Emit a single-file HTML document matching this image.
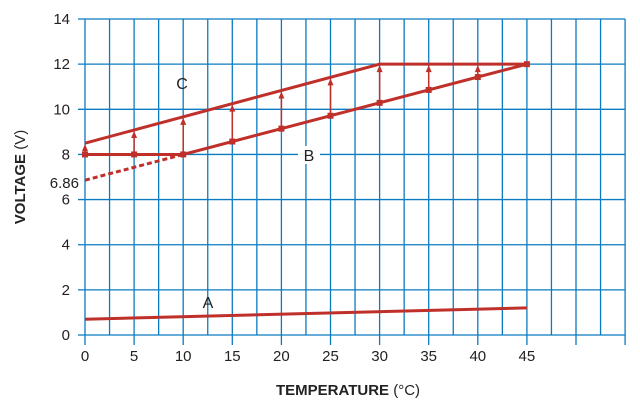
<!DOCTYPE html>
<html><head><meta charset="utf-8"><style>
body{margin:0;background:#fff}
svg{font-family:"Liberation Sans",sans-serif}
</style></head><body>
<svg id="chart" width="640" height="408" viewBox="0 0 640 408" xmlns="http://www.w3.org/2000/svg">
<g id="grid"></g>
<g id="series"></g>
<g id="labels"></g>
<rect x="298" y="146" width="22" height="18" fill="#fff"/>
<text x="182" y="89" font-size="16" text-anchor="middle" fill="#222">C</text>
<text x="309" y="161" font-size="16" text-anchor="middle" fill="#222">B</text>
<text x="208" y="308" font-size="16" text-anchor="middle" fill="#222">A</text>
<text x="79" y="188" font-size="15" text-anchor="end" fill="#222">6.86</text>
<text x="25" y="177" font-size="15" font-weight="bold" text-anchor="middle" fill="#222" transform="rotate(-90 25 177)">VOLTAGE <tspan font-weight="normal">(V)</tspan></text>
<text x="348" y="395" font-size="15" font-weight="bold" text-anchor="middle" fill="#222">TEMPERATURE <tspan font-weight="normal">(°C)</tspan></text>
</svg>
<script>
const xTicks=[0,5,10,15,20,25,30,35,40,45];
const yTicks=[0,2,4,6,8,10,12,14];
const lineA=[[0,0.7],[45,1.2]];
const lineB=[[0,8],[10,8],[45,12]];
const lineBDashed=[[0,6.86],[10,8]];
const lineC=[[0,8.5],[30,12],[45,12]];
const markerTemps=[0,5,10,15,20,25,30,35,40,45];
const arrowTemps=[0,5,10,15,20,25,30,35,40];
const NS='http://www.w3.org/2000/svg';
const X=v=>85+v*9.82, Y=v=>335-v*22.57;
const xMax=55, yMax=14;
function interp(pts,x){for(let i=0;i<pts.length-1;i++){const[a,b]=pts[i],[c,d]=pts[i+1];if(x>=a&&x<=c)return b+(d-b)*(x-a)/(c-a);}return pts[pts.length-1][1];}
function mk(tag,attrs,parent){const e=document.createElementNS(NS,tag);for(const k in attrs)e.setAttribute(k,attrs[k]);document.getElementById(parent).appendChild(e);return e;}
const blue='#0a7bc1', red='#c0302b';
for(let v=0;v<=xMax;v+=2.5){const major=v%5===0;const e=mk('line',{x1:X(v),x2:X(v),y1:Y(yMax),y2:major?Y(0)+10:Y(0),stroke:blue,'stroke-width':1.3},'grid');

}
for(const v of yTicks){const e=mk('line',{x1:X(0)-7,x2:X(xMax),y1:Y(v),y2:Y(v),stroke:blue,'stroke-width':1.3},'grid');


const t=mk('text',{x:70,y:Y(v)+5,'text-anchor':'end','font-size':15,fill:'#222'},'labels');t.textContent=v;

}
for(const v of xTicks){const t=mk('text',{x:X(v),y:361,'text-anchor':'middle','font-size':15,fill:'#222'},'labels');t.textContent=v;

}
function pl(pts,name,extra){const e=mk('polyline',Object.assign({points:pts.map(p=>X(p[0])+','+Y(p[1])).join(' '),fill:'none',stroke:red,'stroke-width':3},extra||{}),'series');

}
pl(lineA,'line-a');pl(lineB,'line-b');pl(lineBDashed,'line-b-extrapolated',{'stroke-dasharray':'5,3'});pl(lineC,'line-c');
for(const t of arrowTemps){const y1=interp(lineB,t),y2=interp(lineC,t);
const l=mk('line',{x1:X(t),x2:X(t),y1:Y(y1),y2:Y(y2)+5,stroke:red,'stroke-width':1.5},'series');


const h=mk('polygon',{points:`${X(t)-3},${Y(y2)+8} ${X(t)+3},${Y(y2)+8} ${X(t)},${Y(y2)+1}`,fill:red},'series');

}
for(const t of markerTemps){const v=interp(lineB,t);const r=mk('rect',{x:X(t)-3,y:Y(v)-3,width:6,height:6,fill:red},'series');

}
</script>
</body></html>
